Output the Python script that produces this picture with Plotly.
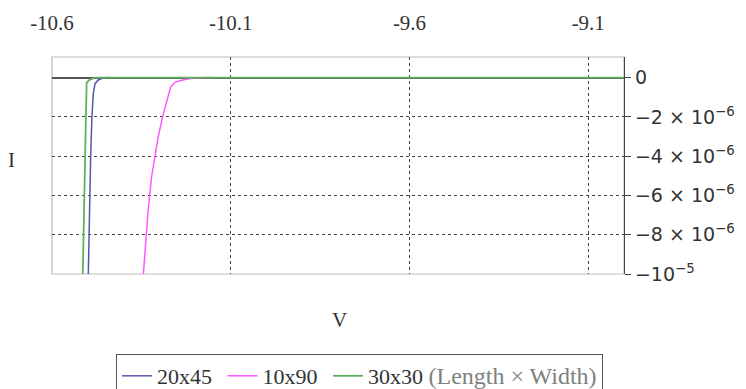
import plotly.graph_objects as go

# Data (V in volts, I in amperes)
v_20x45 = [-10.4990, -10.4966, -10.4939, -10.4919, -10.4883, -10.4846, -10.4799, -10.4707, -10.4575, -10.438]
i_20x45 = [-1.05e-5, -7.85e-6, -6.08e-6, -4.05e-6, -2.01e-6, -0.83e-6, -0.32e-6, -0.12e-6, -0.02e-6, 0.0]

v_10x90 = [-10.3465, -10.3402, -10.3310, -10.3215, -10.3123, -10.3031, -10.2908, -10.2796, -10.2684, -10.2564, -10.2341, -10.2061, -10.1587]
i_10x90 = [-1.05e-5, -8.78e-6, -6.75e-6, -5.06e-6, -4.05e-6, -3.03e-6, -2.01e-6, -1.17e-6, -0.49e-6, -0.24e-6, -0.12e-6, -0.02e-6, 0.0]

v_30x30 = [-10.5145, -10.5126, -10.5106, -10.5078, -10.5059, -10.5031, -10.4939, -10.4799, -9.0]
i_30x30 = [-1.05e-5, -8.78e-6, -6.24e-6, -4.06e-6, -1.68e-6, -0.25e-6, -0.10e-6, 0.0, 0.0]

x_ticks = [-10.6, -10.1, -9.6, -9.1]
x_ticktext = ["-10.6", "-10.1", "-9.6", "-9.1"]
y_ticks = [0, -2e-6, -4e-6, -6e-6, -8e-6, -1e-5]
sup = "<sup style='font-size:15px'>"
y_ticktext = ["0",
              "\u22122 \u00d7 10" + sup + "\u22126</sup>",
              "\u22124 \u00d7 10" + sup + "\u22126</sup>",
              "\u22126 \u00d7 10" + sup + "\u22126</sup>",
              "\u22128 \u00d7 10" + sup + "\u22126</sup>",
              "\u221210" + sup + "\u22125</sup>"]

serif = "Liberation Serif"

fig = go.Figure()
fig.add_trace(go.Scatter(x=v_20x45, y=i_20x45, mode="lines", name="20x45 ",
                         line=dict(color="#5656ad", width=1.5)))
fig.add_trace(go.Scatter(x=v_10x90, y=i_10x90, mode="lines", name="10x90 ",
                         line=dict(color="#ff55ff", width=1.5)))
fig.add_trace(go.Scatter(x=v_30x30, y=i_30x30, mode="lines",
                         name="30x30 <span style='color:#808080;font-size:24px'>(Length \u00d7 Width)</span>",
                         line=dict(color="#5fb05f", width=1.8)))

fig.update_layout(
    width=746, height=389,
    margin=dict(l=52, r=122, t=57, b=115),
    paper_bgcolor="white", plot_bgcolor="white",
    showlegend=True,
    legend=dict(orientation="h", xref="container", yref="container",
                x=116 / 746, xanchor="left", y=(389 - 354) / 389, yanchor="top",
                bordercolor="#555555", borderwidth=1,
                font=dict(family=serif, size=22, color="#333333"),
                itemwidth=30, tracegroupgap=0),
    xaxis=dict(side="top", range=[-10.6, -9.0], tickvals=x_ticks, ticktext=x_ticktext,
               showgrid=True, gridcolor="#444444", griddash="3px,3px", gridwidth=1,
               ticks="", showline=False, zeroline=False,
               ticklabelstandoff=22,
               tickfont=dict(family=serif, size=21, color="#333333")),
    yaxis=dict(side="right", range=[-1e-5, 1.05e-6], tickvals=y_ticks, ticktext=y_ticktext,
               showgrid=True, gridcolor="#444444", griddash="3px,3px", gridwidth=1,
               zeroline=True, zerolinecolor="#555555", zerolinewidth=2,
               showline=True, linecolor="#444444", linewidth=1.2,
               ticks="outside", ticklen=6, tickcolor="#444444",
               tickfont=dict(family="DejaVu Sans", size=19, color="#333333")),
    shapes=[dict(type="rect", xref="paper", yref="paper", x0=0, x1=1, y0=0, y1=1,
                 line=dict(color="#bbbbbb", width=1.2), layer="below")],
    annotations=[
        dict(text="I", xref="paper", yref="paper", x=-0.07, y=0.525, showarrow=False,
             xanchor="center", yanchor="middle",
             font=dict(family=serif, size=21, color="#333333")),
        dict(text="V", xref="paper", yref="paper", x=0.503, y=-0.212, showarrow=False,
             xanchor="center", yanchor="middle",
             font=dict(family=serif, size=21, color="#333333")),
    ],
)

fig.write_html("out.html")
